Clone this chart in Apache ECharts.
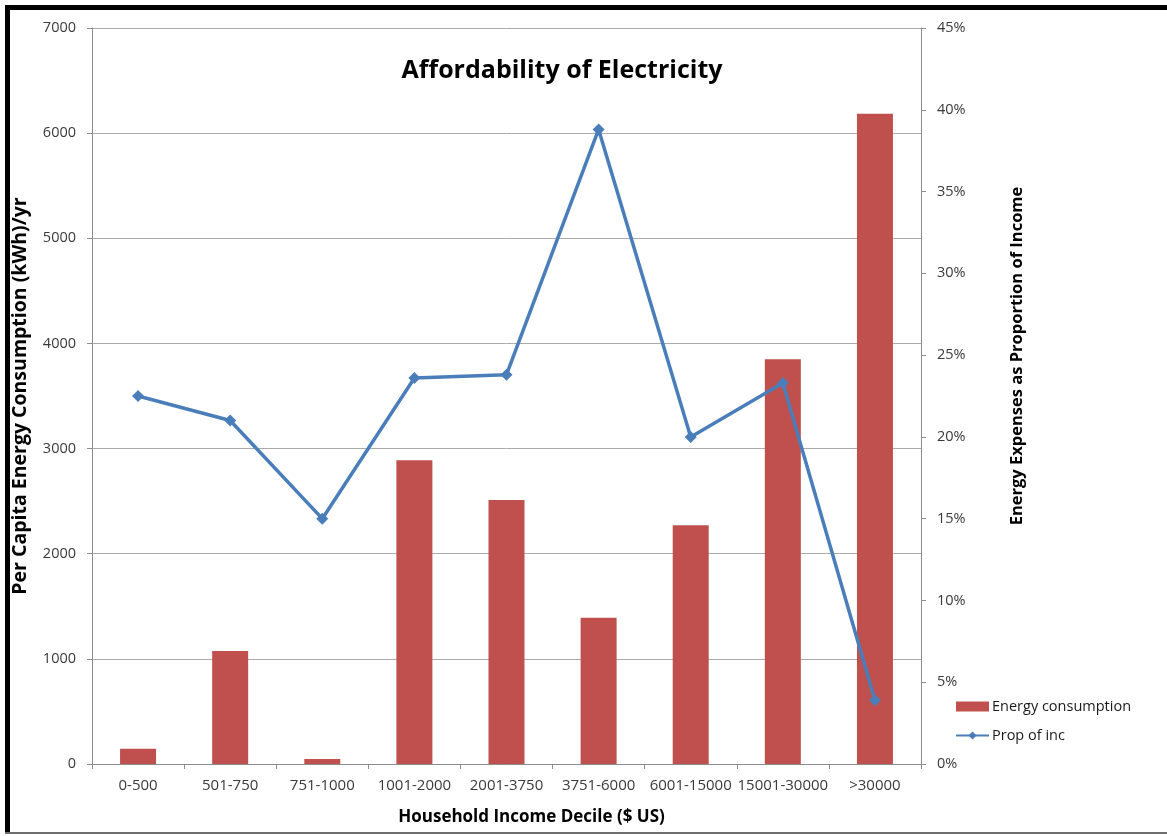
<!DOCTYPE html>
<html>
<head>
<meta charset="utf-8">
<script src="https://cdn.jsdelivr.net/npm/echarts@6/dist/echarts.min.js"></script>
<style>
html,body{margin:0;padding:0;background:#fff;}
#chart{width:1167px;height:836px;}
</style>
</head>
<body>
<div id="chart"></div>
<script>
const categories = ['0-500','501-750','751-1000','1001-2000','2001-3750','3751-6000','6001-15000','15001-30000','>30000'];
const energyConsumption = [145, 1075, 48, 2890, 2510, 1392, 2270, 3850, 6185];
const propOfInc = [0.225, 0.210, 0.150, 0.236, 0.238, 0.388, 0.200, 0.233, 0.039];
const leftTicks = {min: 0, max: 7000, interval: 1000};
const rightTicks = {min: 0, max: 0.45, interval: 0.05};

const FONT = '"Open Sans", "Noto Sans", sans-serif';
const chart = echarts.init(document.getElementById('chart'), null, {renderer: 'canvas'});
chart.setOption({
  animation: false,
  backgroundColor: '#ffffff',
  textStyle: {fontFamily: FONT},
  title: {
    text: 'Affordability of Electricity',
    left: 562, top: 58, textAlign: 'center', padding: 0,
    textStyle: {fontFamily: FONT, fontSize: 25, fontWeight: 'bold', color: '#000'}
  },
  grid: {left: 92, right: 246, top: 28, bottom: 72, containLabel: false, outerBoundsMode: 'none'},
  legend: {
    orient: 'vertical', left: 955, top: 699, padding: 0,
    itemWidth: 33, itemHeight: 10, itemGap: 14,
    textStyle: {fontFamily: FONT, fontSize: 14.5, color: '#1a1a1a', padding: [0,0,0,-2]},
    data: [
      {name: 'Energy consumption', icon: 'rect'},
      {name: 'Prop of inc'}
    ]
  },
  xAxis: {
    type: 'category',
    data: categories,
    boundaryGap: true,
    name: 'Household Income Decile ($ US)',
    nameLocation: 'middle',
    nameGap: 45,
    nameTextStyle: {fontFamily: FONT, fontSize: 17, fontWeight: 'bold', color: '#000', padding: [0,0,0,50]},
    axisLine: {show: true, lineStyle: {color: '#8c8c8c', width: 1}},
    axisTick: {show: true, alignWithLabel: false, length: 5, lineStyle: {color: '#8c8c8c'}},
    axisLabel: {fontFamily: FONT, fontSize: 15, color: '#3a3a3a', margin: 14, interval: 0}
  },
  yAxis: [
    {
      type: 'value',
      min: leftTicks.min, max: leftTicks.max, interval: leftTicks.interval,
      name: 'Per Capita Energy Consumption (kWh)/yr',
      nameLocation: 'middle', nameGap: 62, nameRotate: 90,
      nameTextStyle: {fontFamily: FONT, fontSize: 19.5, fontWeight: 'bold', color: '#000'},
      axisLine: {show: true, lineStyle: {color: '#8c8c8c', width: 1}},
      axisTick: {show: true, length: 5, lineStyle: {color: '#8c8c8c'}},
      axisLabel: {fontFamily: FONT, fontSize: 14.5, color: '#3a3a3a', margin: 16,
        formatter: v => String(v)},
      splitLine: {show: true, lineStyle: {color: '#ababab', width: 1}}
    },
    {
      type: 'value',
      position: 'right',
      min: rightTicks.min, max: rightTicks.max, interval: rightTicks.interval,
      name: 'Energy Expenses as Proportion of Income',
      nameLocation: 'middle', nameGap: 88, nameRotate: 90,
      nameTextStyle: {fontFamily: FONT, fontSize: 16.5, fontWeight: 'bold', color: '#000', padding: [0,0,0,80]},
      axisLine: {show: true, lineStyle: {color: '#8c8c8c', width: 1}},
      axisTick: {show: true, length: 5, lineStyle: {color: '#8c8c8c'}},
      axisLabel: {fontFamily: FONT, fontSize: 14.5, color: '#3a3a3a', margin: 16,
        formatter: v => Math.round(v * 100) + '%'},
      splitLine: {show: false}
    }
  ],
  series: [
    {
      name: 'Energy consumption',
      type: 'bar',
      yAxisIndex: 0,
      data: energyConsumption,
      barWidth: 36,
      itemStyle: {color: '#C0504D'}
    },
    {
      name: 'Prop of inc',
      type: 'line',
      yAxisIndex: 1,
      data: propOfInc,
      symbol: 'diamond',
      symbolSize: 12,
      lineStyle: {color: '#4A7EBB', width: 3.5},
      itemStyle: {color: '#4A7EBB'}
    }
  ],
  graphic: [
    {type: 'rect', shape: {x: 5, y: 5, width: 1162, height: 5}, style: {fill: '#000'}, silent: true},
    {type: 'rect', shape: {x: 5, y: 5, width: 5, height: 829}, style: {fill: '#000'}, silent: true},
    {type: 'rect', shape: {x: 5, y: 832, width: 1162, height: 2}, style: {fill: '#6e6e6e'}, silent: true}
  ]
});
</script>
</body>
</html>
